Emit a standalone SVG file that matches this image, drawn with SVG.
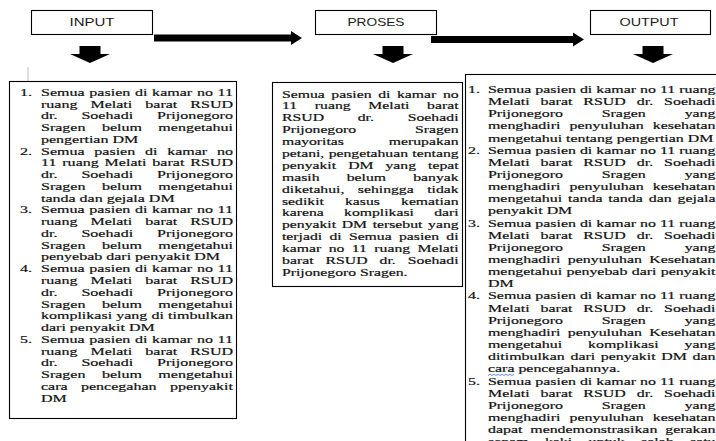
<svg xmlns="http://www.w3.org/2000/svg" width="716" height="441" viewBox="0 0 716 441">
<style>
.box{fill:#fff;stroke:#000;stroke-width:1.1}
.lbl{font-family:"Liberation Sans",Arial,sans-serif;font-size:11.5px;fill:#1a1a1a;text-anchor:middle}
.t{font-family:"Liberation Serif","Times New Roman","DejaVu Serif",serif;font-size:16px;fill:#111;stroke:#111;stroke-width:0.3px}
.m{font-size:15.7px}
.r{font-size:15.9px}
.arrow{fill:#000}
</style>
<rect width="716" height="441" fill="#fff"/>

<g id="node-input">
<rect class="box" x="31.5" y="10.5" width="121" height="24"/>
<text class="lbl" x="92" y="26" textLength="45" lengthAdjust="spacingAndGlyphs">INPUT</text>
</g>
<g id="node-proses">
<rect class="box" x="315.5" y="10.5" width="121" height="24"/>
<text class="lbl" x="376" y="26" textLength="57" lengthAdjust="spacingAndGlyphs">PROSES</text>
</g>
<g id="node-output">
<rect class="box" x="590.5" y="10.5" width="120" height="24"/>
<text class="lbl" x="649" y="26" textLength="59" lengthAdjust="spacingAndGlyphs">OUTPUT</text>
</g>

<g id="connectors">
<polygon class="arrow" points="154,34.5 291,34.5 291,31 302,38 291,45 291,41.5 154,41.5"/>
<polygon class="arrow" points="431,36 573,36 573,32.5 584,39.5 573,46.5 573,43 431,43"/>
<polygon class="arrow" points="79.5,46 100.5,46 100.5,54 110,54 90,63 70,54 79.5,54"/>
<polygon class="arrow" points="382.5,46 403.5,46 403.5,54 413,54 393,63 373,54 382.5,54"/>
<polygon class="arrow" points="642.5,46 663.5,46 663.5,54 673,54 653,63 633,54 642.5,54"/>
</g>

<line x1="28" y1="67" x2="28" y2="81" stroke="#bdbdbd" stroke-width="1"/>

<g id="node-input-detail">
<rect class="box" x="9.5" y="81.5" width="227" height="337"/>
<g class="t" transform="translate(0,96) scale(1,0.64)">
<text x="20" y="0">1.</text>
<text x="41" y="0" textLength="192" lengthAdjust="spacing" style="word-spacing:0.63px">Semua pasien di kamar no 11</text>
<text x="41" y="18.36" textLength="192" lengthAdjust="spacing" style="word-spacing:9.05px">ruang Melati barat RSUD</text>
<text x="41" y="36.72" textLength="192" lengthAdjust="spacing" style="word-spacing:19.79px">dr. Soehadi Prijonegoro</text>
<text x="41" y="55.08" textLength="192" lengthAdjust="spacing" style="word-spacing:12.46px">Sragen belum mengetahui</text>
<text x="41" y="73.44">pengertian DM</text>
<text x="20" y="91.8">2.</text>
<text x="41" y="91.8" textLength="192" lengthAdjust="spacing" style="word-spacing:5.79px">Semua pasien di kamar no</text>
<text x="41" y="110.16" textLength="192" lengthAdjust="spacing" style="word-spacing:1.79px">11 ruang Melati barat RSUD</text>
<text x="41" y="128.52" textLength="192" lengthAdjust="spacing" style="word-spacing:19.79px">dr. Soehadi Prijonegoro</text>
<text x="41" y="146.88" textLength="192" lengthAdjust="spacing" style="word-spacing:12.46px">Sragen belum mengetahui</text>
<text x="41" y="165.24">tanda dan gejala DM</text>
<text x="20" y="183.6">3.</text>
<text x="41" y="183.6" textLength="192" lengthAdjust="spacing" style="word-spacing:0.63px">Semua pasien di kamar no 11</text>
<text x="41" y="201.96" textLength="192" lengthAdjust="spacing" style="word-spacing:9.05px">ruang Melati barat RSUD</text>
<text x="41" y="220.32" textLength="192" lengthAdjust="spacing" style="word-spacing:19.79px">dr. Soehadi Prijonegoro</text>
<text x="41" y="238.68" textLength="192" lengthAdjust="spacing" style="word-spacing:12.46px">Sragen belum mengetahui</text>
<text x="41" y="257.04">penyebab dari penyakit DM</text>
<text x="20" y="275.4">4.</text>
<text x="41" y="275.4" textLength="192" lengthAdjust="spacing" style="word-spacing:0.63px">Semua pasien di kamar no 11</text>
<text x="41" y="293.76" textLength="192" lengthAdjust="spacing" style="word-spacing:9.05px">ruang Melati barat RSUD</text>
<text x="41" y="312.12" textLength="192" lengthAdjust="spacing" style="word-spacing:19.79px">dr. Soehadi Prijonegoro</text>
<text x="41" y="330.48" textLength="192" lengthAdjust="spacing" style="word-spacing:12.46px">Sragen belum mengetahui</text>
<text x="41" y="348.84" textLength="192" lengthAdjust="spacing" style="word-spacing:0.14px">komplikasi yang di timbulkan</text>
<text x="41" y="367.2">dari penyakit DM</text>
<text x="20" y="385.56">5.</text>
<text x="41" y="385.56" textLength="192" lengthAdjust="spacing" style="word-spacing:0.63px">Semua pasien di kamar no 11</text>
<text x="41" y="403.92" textLength="192" lengthAdjust="spacing" style="word-spacing:9.05px">ruang Melati barat RSUD</text>
<text x="41" y="422.28" textLength="192" lengthAdjust="spacing" style="word-spacing:19.79px">dr. Soehadi Prijonegoro</text>
<text x="41" y="440.64" textLength="192" lengthAdjust="spacing" style="word-spacing:12.46px">Sragen belum mengetahui</text>
<text x="41" y="459" textLength="192" lengthAdjust="spacing" style="word-spacing:9.37px">cara pencegahan ppenyakit</text>
<text x="41" y="477.36">DM</text>
</g>
</g>

<g id="node-proses-detail">
<rect class="box" x="272.5" y="82.5" width="190" height="204"/>
<g class="t m" transform="translate(0,97.5) scale(1,0.64)">
<text x="282" y="0" textLength="176.6" lengthAdjust="spacing" style="word-spacing:2.72px">Semua pasien di kamar no</text>
<text x="282" y="18.59" textLength="176.6" lengthAdjust="spacing" style="word-spacing:13.67px">11 ruang Melati barat</text>
<text x="282" y="37.18" textLength="176.6" lengthAdjust="spacing" style="word-spacing:29.64px">RSUD dr. Soehadi</text>
<text x="282" y="55.77" textLength="176.6" lengthAdjust="spacing" style="word-spacing:54.94px">Prijonegoro Sragen</text>
<text x="282" y="74.36" textLength="176.6" lengthAdjust="spacing" style="word-spacing:41px">mayoritas merupakan</text>
<text x="282" y="92.95" textLength="176.6" lengthAdjust="spacing" style="word-spacing:0.44px">petani, pengetahuan tentang</text>
<text x="282" y="111.54" textLength="176.6" lengthAdjust="spacing" style="word-spacing:8.14px">penyakit DM yang tepat</text>
<text x="282" y="130.13" textLength="176.6" lengthAdjust="spacing" style="word-spacing:23.33px">masih belum banyak</text>
<text x="282" y="148.72" textLength="176.6" lengthAdjust="spacing" style="word-spacing:9.59px">diketahui, sehingga tidak</text>
<text x="282" y="167.31" textLength="176.6" lengthAdjust="spacing" style="word-spacing:17.22px">sedikit kasus kematian</text>
<text x="282" y="185.9" textLength="176.6" lengthAdjust="spacing" style="word-spacing:16.35px">karena komplikasi dari</text>
<text x="282" y="204.49" textLength="176.6" lengthAdjust="spacing" style="word-spacing:1.74px">penyakit DM tersebut yang</text>
<text x="282" y="223.08" textLength="176.6" lengthAdjust="spacing" style="word-spacing:3.38px">terjadi di Semua pasien di</text>
<text x="282" y="241.67" textLength="176.6" lengthAdjust="spacing" style="word-spacing:3.38px">kamar no 11 ruang Melati</text>
<text x="282" y="260.26" textLength="176.6" lengthAdjust="spacing" style="word-spacing:7.99px">barat RSUD dr. Soehadi</text>
<text x="282" y="278.85">Prijonegoro Sragen.</text>
</g>
</g>

<g id="node-output-detail">
<rect class="box" x="465.5" y="74.5" width="260" height="400"/>
<g class="t r" transform="translate(0,93) scale(1,0.64)">
<text x="468" y="0">1.</text>
<text x="488" y="0" textLength="227.5" lengthAdjust="spacing">Semua pasien di kamar no 11 ruang</text>
<text x="488" y="18.98" textLength="227.5" lengthAdjust="spacing" style="word-spacing:6.9px">Melati barat RSUD dr. Soehadi</text>
<text x="488" y="37.96" textLength="227.5" lengthAdjust="spacing" style="word-spacing:34.9px">Prijonegoro Sragen yang</text>
<text x="488" y="56.94" textLength="227.5" lengthAdjust="spacing" style="word-spacing:5.2px">menghadiri penyuluhan kesehatan</text>
<text x="488" y="75.92">mengetahui tentang pengertian DM</text>
<text x="468" y="94.9">2.</text>
<text x="488" y="94.9" textLength="227.5" lengthAdjust="spacing">Semua pasien di kamar no 11 ruang</text>
<text x="488" y="113.88" textLength="227.5" lengthAdjust="spacing" style="word-spacing:6.9px">Melati barat RSUD dr. Soehadi</text>
<text x="488" y="132.86" textLength="227.5" lengthAdjust="spacing" style="word-spacing:34.9px">Prijonegoro Sragen yang</text>
<text x="488" y="151.84" textLength="227.5" lengthAdjust="spacing" style="word-spacing:5.2px">menghadiri penyuluhan kesehatan</text>
<text x="488" y="170.82" textLength="227.5" lengthAdjust="spacing" style="word-spacing:1.9px">mengetahui tanda tanda dan gejala</text>
<text x="488" y="189.8">penyakit DM</text>
<text x="468" y="208.78">3.</text>
<text x="488" y="208.78" textLength="227.5" lengthAdjust="spacing">Semua pasien di kamar no 11 ruang</text>
<text x="488" y="227.76" textLength="227.5" lengthAdjust="spacing" style="word-spacing:6.9px">Melati barat RSUD dr. Soehadi</text>
<text x="488" y="246.74" textLength="227.5" lengthAdjust="spacing" style="word-spacing:34.9px">Prijonegoro Sragen yang</text>
<text x="488" y="265.72" textLength="227.5" lengthAdjust="spacing" style="word-spacing:3.4px">menghadiri penyuluhan Kesehatan</text>
<text x="488" y="284.7" textLength="227.5" lengthAdjust="spacing" style="word-spacing:0.35px">mengetahui penyebab dari penyakit</text>
<text x="488" y="303.68">DM</text>
<text x="468" y="322.66">4.</text>
<text x="488" y="322.66" textLength="227.5" lengthAdjust="spacing">Semua pasien di kamar no 11 ruang</text>
<text x="488" y="341.64" textLength="227.5" lengthAdjust="spacing" style="word-spacing:6.9px">Melati barat RSUD dr. Soehadi</text>
<text x="488" y="360.62" textLength="227.5" lengthAdjust="spacing" style="word-spacing:34.9px">Prijonegoro Sragen yang</text>
<text x="488" y="379.6" textLength="227.5" lengthAdjust="spacing" style="word-spacing:3.4px">menghadiri penyuluhan Kesehatan</text>
<text x="488" y="398.58" textLength="227.5" lengthAdjust="spacing" style="word-spacing:22px">mengetahui komplikasi yang</text>
<text x="488" y="417.56" textLength="227.5" lengthAdjust="spacing" style="word-spacing:1.7px">ditimbulkan dari penyakit DM dan</text>
<text x="488" y="436.54">cara pencegahannya.</text>
<text x="468" y="455.52">5.</text>
<text x="488" y="455.52" textLength="227.5" lengthAdjust="spacing">Semua pasien di kamar no 11 ruang</text>
<text x="488" y="474.5" textLength="227.5" lengthAdjust="spacing" style="word-spacing:6.9px">Melati barat RSUD dr. Soehadi</text>
<text x="488" y="493.48" textLength="227.5" lengthAdjust="spacing" style="word-spacing:34.9px">Prijonegoro Sragen yang</text>
<text x="488" y="512.46" textLength="227.5" lengthAdjust="spacing" style="word-spacing:5.2px">menghadiri penyuluhan kesehatan</text>
<text x="488" y="531.44" textLength="227.5" lengthAdjust="spacing" style="word-spacing:3.9px">dapat mendemonstrasikan gerakan</text>
<text x="488" y="550.42" textLength="227.5" lengthAdjust="spacing" style="word-spacing:12.4px">senam kaki untuk salah satu</text>
</g>
<polyline points="488,375.5 490,374.3 492,375.5 494,374.3 496,375.5 498,374.3 500,375.5 502,374.3 504,375.5 506,374.3 508,375.5 510,374.3 512,375.5 514,374.3" fill="none" stroke="#3d6fd9" stroke-width="0.8"/>
</g>
</svg>
